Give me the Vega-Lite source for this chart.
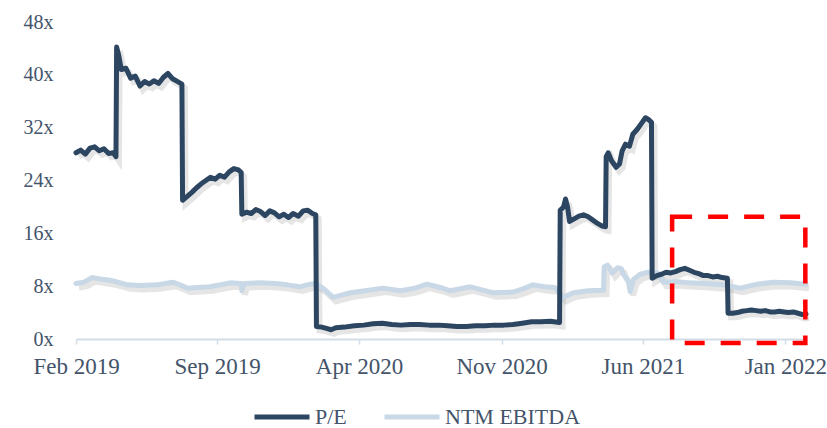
{
  "$schema": "https://vega.github.io/schema/vega-lite/v6.json",
  "width": 730,
  "height": 317,
  "autosize": "none",
  "padding": {"left": 76, "top": 22, "right": 21, "bottom": 89},
  "background": "white",
  "config": {
    "view": {"stroke": null},
    "font": "Liberation Serif",
    "axis": {"labelFont": "Liberation Serif", "labelColor": "#44546A", "labelFontSize": 20, "grid": false, "title": null},
    "legend": {"labelFont": "Liberation Serif", "labelColor": "#44546A", "labelFontSize": 22}
  },
  "datasets": {
    "pe": [
      {"date": "2019-02-01", "v": 28.2}, {"date": "2019-02-08", "v": 28.6}, {"date": "2019-02-15", "v": 28.0},
      {"date": "2019-02-22", "v": 28.9}, {"date": "2019-03-01", "v": 29.1}, {"date": "2019-03-08", "v": 28.5},
      {"date": "2019-03-15", "v": 28.8}, {"date": "2019-03-22", "v": 28.1}, {"date": "2019-03-29", "v": 28.2},
      {"date": "2019-04-02", "v": 27.6}, {"date": "2019-04-03", "v": 44.2}, {"date": "2019-04-06", "v": 43.0},
      {"date": "2019-04-10", "v": 40.8}, {"date": "2019-04-17", "v": 41.0}, {"date": "2019-04-24", "v": 39.5},
      {"date": "2019-05-01", "v": 39.8}, {"date": "2019-05-08", "v": 38.3}, {"date": "2019-05-15", "v": 39.0},
      {"date": "2019-05-22", "v": 38.6}, {"date": "2019-05-29", "v": 39.1}, {"date": "2019-06-05", "v": 38.7},
      {"date": "2019-06-12", "v": 39.6}, {"date": "2019-06-19", "v": 40.2}, {"date": "2019-06-26", "v": 39.4},
      {"date": "2019-07-03", "v": 39.0}, {"date": "2019-07-10", "v": 38.6}, {"date": "2019-07-11", "v": 21.0},
      {"date": "2019-07-18", "v": 21.6}, {"date": "2019-07-25", "v": 22.2}, {"date": "2019-08-01", "v": 22.9},
      {"date": "2019-08-08", "v": 23.5}, {"date": "2019-08-15", "v": 24.0}, {"date": "2019-08-22", "v": 24.5},
      {"date": "2019-08-29", "v": 24.2}, {"date": "2019-09-05", "v": 24.8}, {"date": "2019-09-12", "v": 24.5},
      {"date": "2019-09-19", "v": 25.3}, {"date": "2019-09-26", "v": 25.8}, {"date": "2019-10-03", "v": 25.6},
      {"date": "2019-10-07", "v": 25.2}, {"date": "2019-10-08", "v": 18.9}, {"date": "2019-10-15", "v": 19.2},
      {"date": "2019-10-22", "v": 19.0}, {"date": "2019-10-29", "v": 19.6}, {"date": "2019-11-05", "v": 19.3},
      {"date": "2019-11-12", "v": 18.7}, {"date": "2019-11-19", "v": 19.4}, {"date": "2019-11-26", "v": 19.1},
      {"date": "2019-12-03", "v": 18.5}, {"date": "2019-12-10", "v": 18.9}, {"date": "2019-12-17", "v": 18.4},
      {"date": "2019-12-24", "v": 19.0}, {"date": "2020-01-01", "v": 18.6}, {"date": "2020-01-08", "v": 19.4},
      {"date": "2020-01-15", "v": 19.5}, {"date": "2020-01-22", "v": 19.0}, {"date": "2020-01-27", "v": 18.8},
      {"date": "2020-01-28", "v": 1.9}, {"date": "2020-02-05", "v": 1.8}, {"date": "2020-02-12", "v": 1.6},
      {"date": "2020-02-19", "v": 1.4}, {"date": "2020-02-26", "v": 1.7}, {"date": "2020-03-10", "v": 1.8},
      {"date": "2020-03-25", "v": 2.0}, {"date": "2020-04-08", "v": 2.1}, {"date": "2020-04-22", "v": 2.3},
      {"date": "2020-05-06", "v": 2.4}, {"date": "2020-05-20", "v": 2.2}, {"date": "2020-06-03", "v": 2.1},
      {"date": "2020-06-17", "v": 2.2}, {"date": "2020-07-01", "v": 2.2}, {"date": "2020-07-15", "v": 2.1},
      {"date": "2020-07-29", "v": 2.1}, {"date": "2020-08-12", "v": 2.0}, {"date": "2020-08-26", "v": 1.9},
      {"date": "2020-09-09", "v": 1.9}, {"date": "2020-09-23", "v": 2.0}, {"date": "2020-10-07", "v": 2.0},
      {"date": "2020-10-21", "v": 2.1}, {"date": "2020-11-04", "v": 2.1}, {"date": "2020-11-18", "v": 2.2},
      {"date": "2020-12-02", "v": 2.4}, {"date": "2020-12-16", "v": 2.6}, {"date": "2020-12-30", "v": 2.6},
      {"date": "2021-01-13", "v": 2.7}, {"date": "2021-01-27", "v": 2.5}, {"date": "2021-01-28", "v": 19.5},
      {"date": "2021-02-02", "v": 20.0}, {"date": "2021-02-05", "v": 21.2}, {"date": "2021-02-08", "v": 20.0},
      {"date": "2021-02-11", "v": 17.8}, {"date": "2021-02-18", "v": 18.2}, {"date": "2021-02-25", "v": 18.6},
      {"date": "2021-03-04", "v": 18.8}, {"date": "2021-03-11", "v": 18.5}, {"date": "2021-03-18", "v": 18.0},
      {"date": "2021-03-25", "v": 17.5}, {"date": "2021-04-01", "v": 17.1}, {"date": "2021-04-06", "v": 17.0},
      {"date": "2021-04-07", "v": 27.6}, {"date": "2021-04-10", "v": 28.2}, {"date": "2021-04-15", "v": 27.0},
      {"date": "2021-04-22", "v": 26.0}, {"date": "2021-04-27", "v": 26.5}, {"date": "2021-05-01", "v": 28.5},
      {"date": "2021-05-06", "v": 29.5}, {"date": "2021-05-12", "v": 29.2}, {"date": "2021-05-17", "v": 31.0},
      {"date": "2021-05-24", "v": 31.8}, {"date": "2021-05-31", "v": 32.8}, {"date": "2021-06-05", "v": 33.5},
      {"date": "2021-06-10", "v": 33.2}, {"date": "2021-06-14", "v": 32.8}, {"date": "2021-06-15", "v": 9.2},
      {"date": "2021-06-22", "v": 9.6}, {"date": "2021-06-29", "v": 9.8}, {"date": "2021-07-06", "v": 10.1},
      {"date": "2021-07-13", "v": 10.0}, {"date": "2021-07-20", "v": 10.2}, {"date": "2021-07-27", "v": 10.5},
      {"date": "2021-08-03", "v": 10.7}, {"date": "2021-08-10", "v": 10.4}, {"date": "2021-08-17", "v": 10.1},
      {"date": "2021-08-24", "v": 9.9}, {"date": "2021-08-31", "v": 9.6}, {"date": "2021-09-07", "v": 9.6},
      {"date": "2021-09-14", "v": 9.4}, {"date": "2021-09-21", "v": 9.5}, {"date": "2021-09-28", "v": 9.3},
      {"date": "2021-10-06", "v": 9.2}, {"date": "2021-10-07", "v": 3.9}, {"date": "2021-10-14", "v": 3.9},
      {"date": "2021-10-21", "v": 4.0}, {"date": "2021-10-28", "v": 4.2}, {"date": "2021-11-04", "v": 4.3},
      {"date": "2021-11-11", "v": 4.4}, {"date": "2021-11-18", "v": 4.3}, {"date": "2021-11-25", "v": 4.2},
      {"date": "2021-12-02", "v": 4.3}, {"date": "2021-12-09", "v": 4.1}, {"date": "2021-12-16", "v": 4.1},
      {"date": "2021-12-23", "v": 4.2}, {"date": "2021-12-30", "v": 4.1}, {"date": "2022-01-06", "v": 4.0},
      {"date": "2022-01-13", "v": 4.1}, {"date": "2022-01-20", "v": 3.9}, {"date": "2022-01-27", "v": 3.7},
      {"date": "2022-02-01", "v": 3.8}
    ],
    "ebitda": [
      {"date": "2019-02-01", "v": 8.4}, {"date": "2019-02-13", "v": 8.6}, {"date": "2019-02-25", "v": 9.3},
      {"date": "2019-03-09", "v": 9.1}, {"date": "2019-03-24", "v": 8.9}, {"date": "2019-04-05", "v": 8.6},
      {"date": "2019-04-19", "v": 8.2}, {"date": "2019-05-08", "v": 8.1}, {"date": "2019-06-03", "v": 8.2},
      {"date": "2019-06-15", "v": 8.4}, {"date": "2019-06-27", "v": 8.6}, {"date": "2019-07-07", "v": 8.2},
      {"date": "2019-07-18", "v": 7.7}, {"date": "2019-08-03", "v": 7.8}, {"date": "2019-08-21", "v": 7.9},
      {"date": "2019-09-05", "v": 8.2}, {"date": "2019-09-20", "v": 8.5}, {"date": "2019-10-07", "v": 8.4},
      {"date": "2019-10-08", "v": 7.3}, {"date": "2019-10-11", "v": 8.4}, {"date": "2019-11-04", "v": 8.5},
      {"date": "2019-11-27", "v": 8.4}, {"date": "2019-12-15", "v": 8.2}, {"date": "2020-01-03", "v": 7.9},
      {"date": "2020-01-18", "v": 8.3}, {"date": "2020-01-27", "v": 8.4}, {"date": "2020-02-08", "v": 7.6},
      {"date": "2020-02-22", "v": 6.3}, {"date": "2020-03-04", "v": 6.6}, {"date": "2020-03-19", "v": 7.0},
      {"date": "2020-04-10", "v": 7.3}, {"date": "2020-05-07", "v": 7.7}, {"date": "2020-06-02", "v": 7.3},
      {"date": "2020-06-24", "v": 7.7}, {"date": "2020-07-12", "v": 8.3}, {"date": "2020-08-01", "v": 7.8},
      {"date": "2020-08-16", "v": 7.3}, {"date": "2020-09-15", "v": 7.9}, {"date": "2020-10-04", "v": 7.4},
      {"date": "2020-10-19", "v": 7.0}, {"date": "2020-11-18", "v": 7.1}, {"date": "2020-12-03", "v": 7.6},
      {"date": "2020-12-18", "v": 8.2}, {"date": "2021-01-05", "v": 7.9}, {"date": "2021-01-20", "v": 7.8},
      {"date": "2021-02-01", "v": 6.3}, {"date": "2021-02-17", "v": 7.0}, {"date": "2021-03-11", "v": 7.3},
      {"date": "2021-04-03", "v": 7.4}, {"date": "2021-04-04", "v": 10.9}, {"date": "2021-04-09", "v": 11.2},
      {"date": "2021-04-16", "v": 10.0}, {"date": "2021-04-24", "v": 10.8}, {"date": "2021-04-30", "v": 10.6},
      {"date": "2021-05-03", "v": 9.8}, {"date": "2021-05-10", "v": 8.8}, {"date": "2021-05-13", "v": 7.2},
      {"date": "2021-05-18", "v": 9.0}, {"date": "2021-05-28", "v": 9.8}, {"date": "2021-06-08", "v": 10.1},
      {"date": "2021-06-23", "v": 10.0}, {"date": "2021-07-02", "v": 8.6}, {"date": "2021-07-20", "v": 8.7},
      {"date": "2021-08-11", "v": 8.5}, {"date": "2021-09-03", "v": 8.4}, {"date": "2021-09-30", "v": 8.2},
      {"date": "2021-10-25", "v": 7.7}, {"date": "2021-11-20", "v": 8.3}, {"date": "2021-12-14", "v": 8.6},
      {"date": "2022-01-09", "v": 8.5}, {"date": "2022-02-01", "v": 8.3}
    ],
    "box": [{"date": "2021-07-15", "end": "2022-01-31", "lo": -0.6, "v": 18.5}]
  },
  "encoding": {
    "x": {
      "field": "date", "type": "temporal",
      "scale": {"type": "utc", "domain": [{"year": 2019, "month": 2, "date": 1, "utc": true}, {"year": 2022, "month": 2, "date": 1, "utc": true}]},
      "axis": {
        "values": [
          {"year": 2019, "month": 2, "date": 1, "utc": true},
          {"year": 2019, "month": 9, "date": 1, "utc": true},
          {"year": 2020, "month": 4, "date": 1, "utc": true},
          {"year": 2020, "month": 11, "date": 1, "utc": true},
          {"year": 2021, "month": 6, "date": 1, "utc": true},
          {"year": 2022, "month": 1, "date": 1, "utc": true}
        ],
        "format": "%b %Y",
        "labelFontSize": 23,
        "domainColor": "#D3DDE8", "domainWidth": 2,
        "tickColor": "#D3DDE8", "tickWidth": 1.5, "tickSize": 5,
        "labelPadding": 11, "labelOverlap": false, "labelFlush": false
      }
    },
    "y": {
      "field": "v", "type": "quantitative",
      "scale": {"domain": [0, 48], "nice": false, "zero": true},
      "axis": {
        "values": [0, 8, 16, 24, 32, 40, 48],
        "labelExpr": "datum.value + 'x'",
        "domain": false, "ticks": false, "tickSize": 0, "labelPadding": 23
      }
    }
  },
  "layer": [
    {
      "data": {"name": "ebitda"},
      "mark": {"type": "line", "strokeWidth": 6, "color": "#8A8A8A", "opacity": 0.22, "xOffset": 3, "yOffset": 4}
    },
    {
      "data": {"name": "pe"},
      "mark": {"type": "line", "strokeWidth": 6, "color": "#8A8A8A", "opacity": 0.22, "xOffset": 3, "yOffset": 4}
    },
    {
      "data": {"name": "ebitda"},
      "transform": [{"calculate": "'NTM EBITDA'", "as": "series"}],
      "mark": {"type": "line", "strokeWidth": 5, "strokeJoin": "round", "strokeCap": "round"},
      "encoding": {
        "color": {
          "field": "series", "type": "nominal",
          "scale": {"domain": ["P/E", "NTM EBITDA"], "range": ["#2C4662", "#C9D8E6"]},
          "legend": {
            "title": null, "orient": "none", "direction": "horizontal",
            "legendX": 176, "legendY": 365,
            "symbolType": "stroke", "symbolSize": 3025, "symbolStrokeWidth": 5,
            "labelOffset": 3, "columnPadding": 27
          }
        }
      }
    },
    {
      "data": {"name": "pe"},
      "transform": [{"calculate": "'P/E'", "as": "series"}],
      "mark": {"type": "line", "strokeWidth": 5, "strokeJoin": "round", "strokeCap": "round"},
      "encoding": {
        "color": {"field": "series", "type": "nominal"}
      }
    },
    {
      "data": {"name": "box"},
      "mark": {"type": "rect", "fill": null, "fillOpacity": 0, "stroke": "#FF0000", "strokeWidth": 4.5, "strokeDash": [20, 16], "clip": false},
      "encoding": {
        "x2": {"field": "end"},
        "y2": {"field": "lo"}
      }
    }
  ]
}
